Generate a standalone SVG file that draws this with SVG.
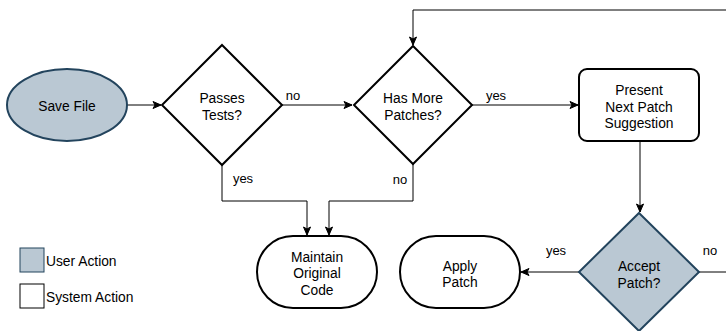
<svg xmlns="http://www.w3.org/2000/svg" width="726" height="331" viewBox="0 0 726 331">
<style>
text{font-family:"Liberation Sans",Arial,sans-serif;font-size:13.8px;fill:#000;text-anchor:middle}
.lbl{font-size:13px}
.user{fill:#bac8d3;stroke:#23445d;stroke-width:2}
.sys{fill:#fff;stroke:#000;stroke-width:2}
.conn{fill:none;stroke:#000;stroke-width:1}
</style>
<defs>
<marker id="arr" markerUnits="userSpaceOnUse" markerWidth="10" markerHeight="10" viewBox="0 0 10 10" refX="9" refY="5" orient="auto">
<path d="M1,1.5 L9,5 L1,8.5 L3,5 Z" fill="#000" stroke="#000" stroke-width="1"/>
</marker>
</defs>
<rect width="726" height="331" fill="#fff"/>
<g id="connectors">
<path class="conn" d="M127,105 H161" marker-end="url(#arr)"/>
<path class="conn" d="M281,105 H352" marker-end="url(#arr)"/>
<path class="conn" d="M472,105 H578" marker-end="url(#arr)"/>
<path class="conn" d="M726,10 H413 V45" marker-end="url(#arr)"/>
<path class="conn" d="M222,165 V201 H307 V235" marker-end="url(#arr)"/>
<path class="conn" d="M413,164 V201 H329 V235" marker-end="url(#arr)"/>
<path class="conn" d="M640,141 V212" marker-end="url(#arr)"/>
<path class="conn" d="M579,272 H521" marker-end="url(#arr)"/>
<path class="conn" d="M699,272 H726"/>
<text class="lbl" x="293" y="100">no</text>
<text class="lbl" x="496" y="100">yes</text>
<text class="lbl" x="243" y="183">yes</text>
<text class="lbl" x="400" y="184">no</text>
<text class="lbl" x="556" y="255">yes</text>
<text class="lbl" x="710" y="255">no</text>
</g>
<g id="save-file">
<ellipse class="user" cx="67" cy="105" rx="60" ry="36"/>
<text x="67" y="111">Save File</text>
</g>
<g id="passes-tests">
<polygon class="sys" points="222,45 282,105 222,165 162,105"/>
<text x="222" y="103">Passes</text>
<text x="222" y="120">Tests?</text>
</g>
<g id="has-more-patches">
<polygon class="sys" points="413,46 472,105 413,164 354,105"/>
<text x="413" y="103">Has More</text>
<text x="413" y="120">Patches?</text>
</g>
<g id="present-next-patch">
<rect class="sys" x="579" y="69" width="120" height="72" rx="8"/>
<text x="639" y="95">Present</text>
<text x="639" y="112">Next Patch</text>
<text x="639" y="128">Suggestion</text>
</g>
<g id="accept-patch">
<polygon class="user" points="639,213 699,272 639,331 579,272"/>
<text x="639" y="271">Accept</text>
<text x="639" y="288">Patch?</text>
</g>
<g id="maintain-original-code">
<rect class="sys" x="257" y="236" width="120" height="72" rx="36"/>
<text x="317" y="262">Maintain</text>
<text x="317" y="278">Original</text>
<text x="317" y="295">Code</text>
</g>
<g id="apply-patch">
<rect class="sys" x="400" y="236" width="120" height="72" rx="36"/>
<text x="460" y="271">Apply</text>
<text x="460" y="287">Patch</text>
</g>
<g id="legend">
<rect x="20" y="248" width="24" height="24" fill="#bac8d3" stroke="#23445d" stroke-width="1"/>
<text x="46" y="266" style="text-anchor:start">User Action</text>
<rect x="20" y="284" width="24" height="24" fill="#fff" stroke="#000" stroke-width="1"/>
<text x="46" y="302" style="text-anchor:start">System Action</text>
</g>
</svg>
